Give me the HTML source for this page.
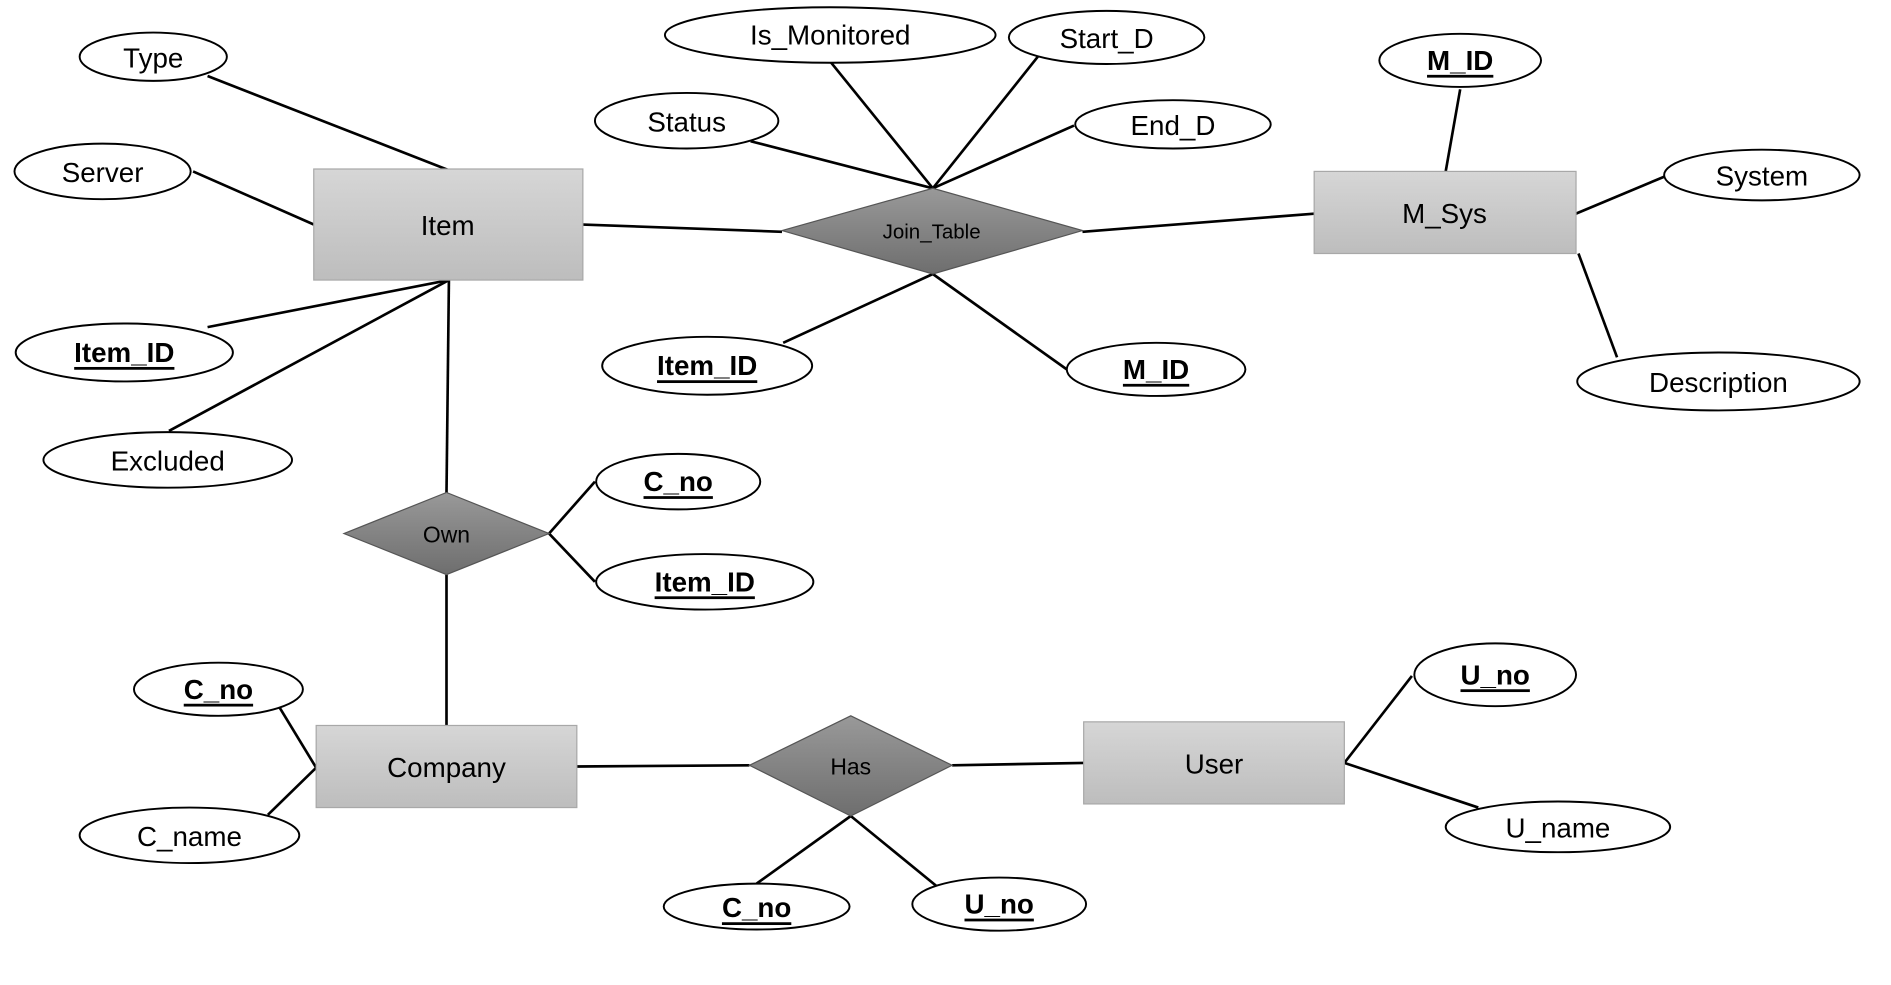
<!DOCTYPE html>
<html><head><meta charset="utf-8"><style>
html,body{margin:0;padding:0;background:#fff;}
svg{display:block;}
text{font-family:"Liberation Sans",sans-serif;fill:#000;}
</style></head><body>
<svg width="1891" height="985" viewBox="0 0 1567 816" preserveAspectRatio="none" xmlns="http://www.w3.org/2000/svg">
<defs>
<linearGradient id="g" x1="0" y1="0" x2="0" y2="1"><stop offset="0" stop-color="#d6d6d6"/><stop offset="1" stop-color="#bdbdbd"/></linearGradient>
<linearGradient id="d" x1="0" y1="0" x2="0" y2="1"><stop offset="0" stop-color="#999"/><stop offset="1" stop-color="#6e6e6e"/></linearGradient>
</defs>
<g stroke="#000" stroke-width="2.2" fill="none">
<line x1="172" y1="63" x2="372" y2="141"/>
<line x1="160" y1="142" x2="260" y2="186"/>
<line x1="172" y1="271" x2="372" y2="232"/>
<line x1="140" y1="357" x2="372" y2="232"/>
<line x1="372" y1="232" x2="370" y2="408"/>
<line x1="370" y1="476" x2="370" y2="601"/>
<line x1="455" y1="442" x2="493" y2="399"/>
<line x1="455" y1="442" x2="493" y2="482"/>
<line x1="483" y1="186" x2="648" y2="192"/>
<line x1="897" y1="192" x2="1089" y2="177"/>
<line x1="622" y1="117" x2="773" y2="156"/>
<line x1="688" y1="51" x2="773" y2="156"/>
<line x1="860" y1="47" x2="773" y2="156"/>
<line x1="890" y1="104" x2="773" y2="156"/>
<line x1="773" y1="227" x2="649" y2="284"/>
<line x1="773" y1="227" x2="884" y2="306"/>
<line x1="1210" y1="74" x2="1198" y2="142"/>
<line x1="1306" y1="177" x2="1380" y2="146"/>
<line x1="1308" y1="210" x2="1340" y2="296"/>
<line x1="231" y1="585" x2="262" y2="636"/>
<line x1="222" y1="675" x2="262" y2="636"/>
<line x1="478" y1="635" x2="621" y2="634"/>
<line x1="789" y1="634" x2="898" y2="632"/>
<line x1="1114" y1="632" x2="1170" y2="560"/>
<line x1="1114" y1="632" x2="1225" y2="669"/>
<line x1="705" y1="676" x2="627" y2="732"/>
<line x1="705" y1="676" x2="776" y2="734"/>
</g>
<g fill="url(#g)" stroke="#a8a8a8" stroke-width="1">
<rect x="260" y="140" width="223" height="92"/>
<rect x="1089" y="142" width="217" height="68"/>
<rect x="262" y="601" width="216" height="68"/>
<rect x="898" y="598" width="216" height="68"/>
</g>
<g fill="url(#d)" stroke="#555" stroke-width="1">
<polygon points="648,191 773,156 897,191 773,227"/>
<polygon points="285,442 370,408 455,442 370,476"/>
<polygon points="621,634 705,593 789,634 705,676"/>
</g>
<g fill="#fff" stroke="#000" stroke-width="1.6">
<ellipse cx="127" cy="47" rx="61" ry="20"/>
<ellipse cx="85" cy="142" rx="73" ry="23"/>
<ellipse cx="103" cy="292" rx="90" ry="24"/>
<ellipse cx="139" cy="381" rx="103" ry="23"/>
<ellipse cx="569" cy="100" rx="76" ry="23"/>
<ellipse cx="688" cy="29" rx="137" ry="23"/>
<ellipse cx="917" cy="31" rx="81" ry="22"/>
<ellipse cx="972" cy="103" rx="81" ry="20"/>
<ellipse cx="1210" cy="50" rx="67" ry="22"/>
<ellipse cx="1460" cy="145" rx="81" ry="21"/>
<ellipse cx="1424" cy="316" rx="117" ry="24"/>
<ellipse cx="586" cy="303" rx="87" ry="24"/>
<ellipse cx="958" cy="306" rx="74" ry="22"/>
<ellipse cx="562" cy="399" rx="68" ry="23"/>
<ellipse cx="584" cy="482" rx="90" ry="23"/>
<ellipse cx="181" cy="571" rx="70" ry="22"/>
<ellipse cx="157" cy="692" rx="91" ry="23"/>
<ellipse cx="1239" cy="559" rx="67" ry="26"/>
<ellipse cx="1291" cy="685" rx="93" ry="21"/>
<ellipse cx="627" cy="751" rx="77" ry="19"/>
<ellipse cx="828" cy="749" rx="72" ry="22"/>
</g>
<g font-size="23" text-anchor="middle" dominant-baseline="central">
<text x="371" y="187">Item</text>
<text x="1197" y="177">M_Sys</text>
<text x="370" y="636">Company</text>
<text x="1006" y="633">User</text>
<text x="772" y="192" font-size="17">Join_Table</text>
<text x="370" y="443" font-size="19">Own</text>
<text x="705" y="635" font-size="19">Has</text>
<text x="127" y="48">Type</text>
<text x="85" y="143">Server</text>
<text x="139" y="382">Excluded</text>
<text x="569" y="101">Status</text>
<text x="688" y="29">Is_Monitored</text>
<text x="917" y="32">Start_D</text>
<text x="972" y="104">End_D</text>
<text x="1460" y="146">System</text>
<text x="1424" y="317">Description</text>
<text x="157" y="693">C_name</text>
<text x="1291" y="686">U_name</text>
</g>
<g font-size="23" font-weight="bold" text-anchor="middle" dominant-baseline="central" text-decoration="underline">
<text x="103" y="292">Item_ID</text>
<text x="1210" y="50">M_ID</text>
<text x="586" y="303">Item_ID</text>
<text x="958" y="306">M_ID</text>
<text x="562" y="399">C_no</text>
<text x="584" y="482">Item_ID</text>
<text x="181" y="571">C_no</text>
<text x="1239" y="559">U_no</text>
<text x="627" y="752">C_no</text>
<text x="828" y="749">U_no</text>
</g>
</svg>
</body></html>
